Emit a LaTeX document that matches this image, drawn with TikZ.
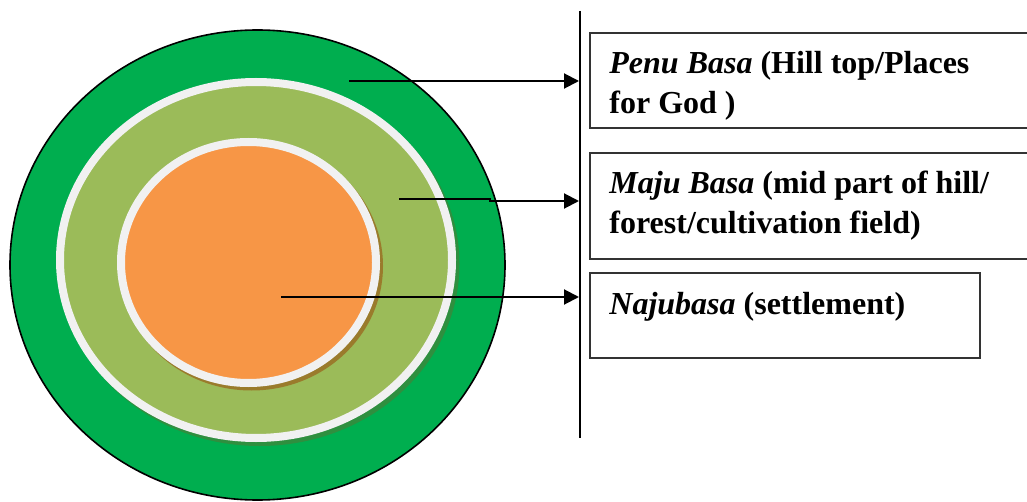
\documentclass[tikz,border=0pt]{standalone}
\usepackage{fontspec}
\setmainfont{Liberation Serif}
\usetikzlibrary{arrows.meta}
\definecolor{outergreen}{HTML}{00AE4F}
\definecolor{midgreen}{HTML}{9BBB59}
\definecolor{coreorange}{HTML}{F79646}
\definecolor{ringwhite}{HTML}{F1F1F1}
\definecolor{midshadow}{HTML}{2F8F3F}
\definecolor{coreshadow}{HTML}{9A7B2C}
\definecolor{boxline}{HTML}{333333}
\begin{document}
\begin{tikzpicture}[x=0.5pt,y=-0.5pt,
  lbl/.style={anchor=base west, inner sep=0pt, font=\fontsize{16}{20}\selectfont\bfseries},
  zonebox/.style={draw=boxline, line width=1pt, rectangle, inner sep=0pt, anchor=north west},
  pointer/.style={draw=black, line width=1pt, -{Triangle[length=7.5pt,width=7.5pt]}}]
\useasboundingbox (0,0) rectangle (1027,502);
% outer zone
\filldraw[fill=outergreen, draw=black, line width=0.8pt] (257.5,265) ellipse [x radius=247.5, y radius=235];
% middle zone
\fill[midshadow] (259.5,264) ellipse [x radius=200, y radius=182];
\filldraw[fill=midgreen, draw=ringwhite, line width=4pt] (256,260) ellipse [x radius=196, y radius=178];
% core zone
\fill[coreshadow] (251.5,266) ellipse [x radius=131.5, y radius=124.5];
\filldraw[fill=coreorange, draw=ringwhite, line width=4pt] (248.5,262.5) ellipse [x radius=127.5, y radius=120.5];
% vertical rule
\coordinate (vtop) at (580,11);
\coordinate (vbot) at (580,438);
\draw[line width=1pt] (vtop) -- (vbot);
% pointers
\coordinate (a1s) at (349,81);
\coordinate (a1e) at (579,81);
\coordinate (a2s) at (399,199);
\coordinate (a2m) at (490,199);
\coordinate (a2n) at (490,201);
\coordinate (a2e) at (579,201);
\coordinate (a3s) at (281,297);
\coordinate (a3e) at (579,297);
\draw[pointer] (a1s) -- (a1e);
\draw[pointer] (a2s) -- (a2m) -- (a2n) -- (a2e);
\draw[pointer] (a3s) -- (a3e);
% boxes
\node[zonebox, minimum width=220.5pt, minimum height=47.5pt] (box1) at (589,32) {};
\node[zonebox, minimum width=220.5pt, minimum height=53pt] (box2) at (589,152) {};
\node[zonebox, minimum width=195pt, minimum height=42.5pt] (box3) at (589,272) {};
% labels
\node[lbl] (t1a) at (609,74) {\textit{Penu Basa} (Hill top/Places};
\node[lbl] (t1b) at (609,114) {for God )};
\node[lbl] (t2a) at (609,194) {\textit{Maju Basa} (mid part of hill/};
\node[lbl] (t2b) at (609,234) {forest/cultivation field)};
\node[lbl] (t3) at (609,314) {\textit{Najubasa} (settlement)};
\end{tikzpicture}
\end{document}
